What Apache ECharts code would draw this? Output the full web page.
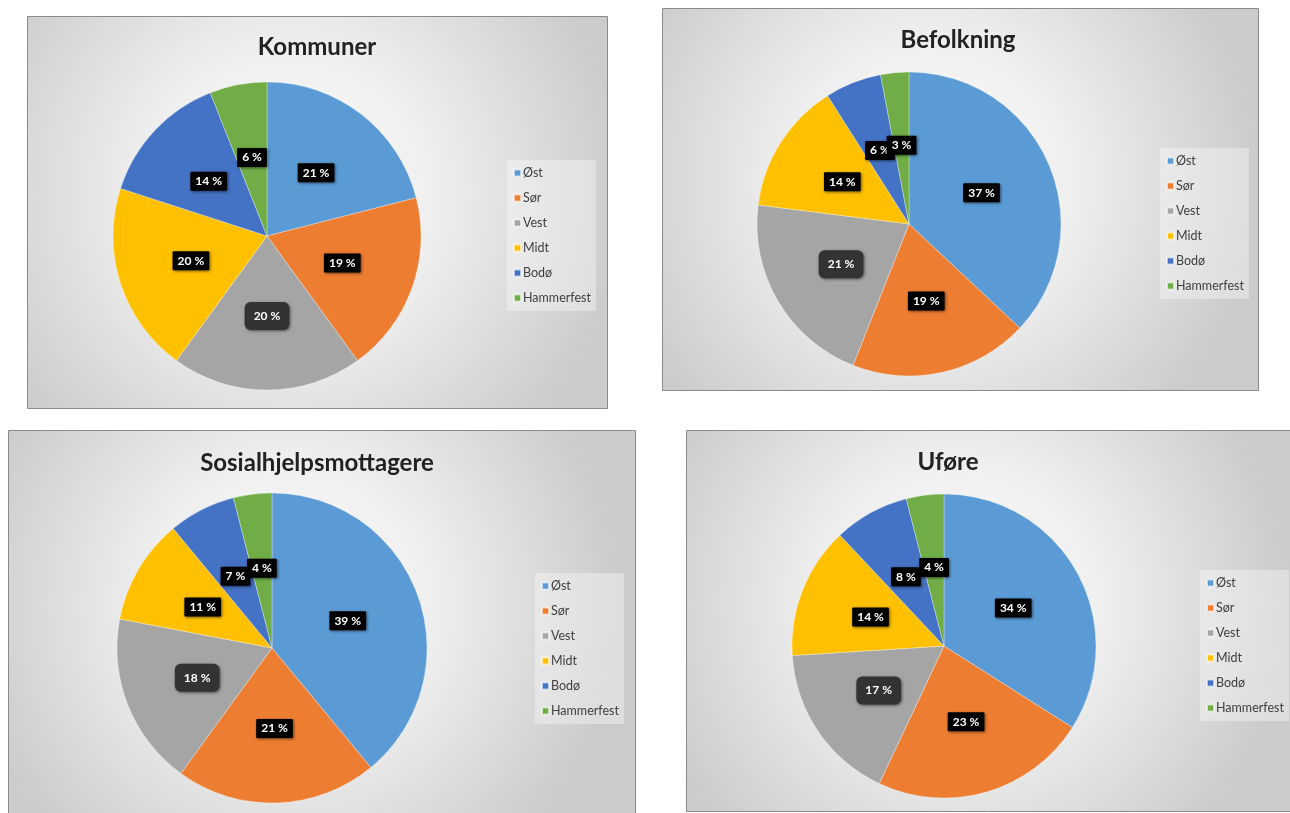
<!DOCTYPE html>
<html>
<head>
<meta charset="utf-8">
<script src="https://cdn.jsdelivr.net/npm/echarts@6/dist/echarts.min.js"></script>
<style>
html,body{margin:0;padding:0;background:#fff;}
#c{width:1290px;height:813px;}
</style>
</head>
<body>
<div id="c"></div>
<script>
var categories = ['Øst', 'Sør', 'Vest', 'Midt', 'Bodø', 'Hammerfest'];
var colors = ['#5B9BD5', '#ED7D31', '#A5A5A5', '#FFC000', '#4472C4', '#70AD47'];
var titles = ['Kommuner', 'Befolkning', 'Sosialhjelpsmottagere', 'Uføre'];
var kommuner = [21, 19, 20, 20, 14, 6];
var befolkning = [37, 19, 21, 14, 6, 3];
var sosialhjelp = [39, 21, 18, 11, 7, 4];
var ufore = [34, 23, 17, 14, 8, 4];
var seriesValues = [kommuner, befolkning, sosialhjelp, ufore];

// layout
var panels = [
  {x: 27, y: 16, w: 580, h: 392, cx: 267, cy: 236, r: 154, tx: 317, ty: 47, lx: 507, ly: 160},
  {x: 662, y: 8, w: 596, h: 382, cx: 909, cy: 224, r: 152, tx: 958, ty: 40, lx: 1160, ly: 148},
  {x: 8, y: 430, w: 627, h: 383, cx: 272, cy: 648, r: 155, tx: 317, ty: 463, lx: 535, ly: 573},
  {x: 686, y: 430, w: 610, h: 381, cx: 944, cy: 646, r: 152, tx: 948, ty: 462, lx: 1200, ly: 570}
];

var FONT = 'Lato, "Open Sans", "Liberation Sans", sans-serif';

var graphics = [];
var series = [];
var legends = [];

panels.forEach(function (p, i) {
  graphics.push({
    type: 'rect', z: -10,
    shape: {x: p.x + 0.5, y: p.y + 0.5, width: p.w, height: p.h},
    style: {
      fill: {
        type: 'radial', x: 0.45, y: 0.45, r: 0.85,
        colorStops: [{offset: 0, color: '#ffffff'}, {offset: 0.45, color: '#eeeeee'}, {offset: 1, color: '#cccccc'}]
      },
      stroke: '#8a8a8a', lineWidth: 1
    }
  });
  graphics.push({
    type: 'text', z: 10,
    x: p.tx, y: p.ty,
    style: {
      text: titles[i], fill: '#222', font: 'bold 24px ' + FONT,
      textAlign: 'center', textVerticalAlign: 'middle'
    }
  });

  var data = categories.map(function (name, k) {
    var item = {name: name, value: seriesValues[i][k]};
    if (name === 'Vest') {
      item.label = {backgroundColor: '#333333', borderRadius: 6, padding: [8, 9, 8, 9]};
    }
    return item;
  });

  series.push({
    type: 'pie',
    center: [p.cx, p.cy],
    radius: [0, p.r],
    startAngle: 90,
    clockwise: true,
    avoidLabelOverlap: false,
    minShowLabelAngle: 0,
    labelLayout: {hideOverlap: false},
    color: colors,
    data: data,
    itemStyle: {borderColor: 'rgba(255,255,255,0.6)', borderWidth: 0.5},
    emphasis: {disabled: true},
    label: {
      show: true,
      position: 'inside',
      formatter: '{c} %',
      color: '#ffffff',
      fontFamily: FONT,
      fontWeight: 'bold',
      fontSize: 12,
      backgroundColor: '#000000',
      padding: [4, 5, 3, 5],
      borderRadius: 1,
      shadowColor: 'rgba(0,0,0,0.55)',
      shadowBlur: 3,
      shadowOffsetX: 1,
      shadowOffsetY: 1
    },
    labelLine: {show: false}
  });

  legends.push({
    orient: 'vertical',
    left: p.lx, top: p.ly,
    data: categories,
    itemWidth: 7, itemHeight: 7,
    itemGap: 11,
    icon: 'rect',
    padding: [6, 5, 6, 6],
    backgroundColor: 'rgba(255,255,255,0.35)',
    selectedMode: false,
    textStyle: {fontFamily: FONT, fontSize: 12.5, color: '#404040', lineHeight: 14, padding: [0, 0, 0, -3]}
  });
});

var chart = echarts.init(document.getElementById('c'), null, {renderer: 'canvas'});
chart.setOption({
  animation: false,
  color: colors,
  graphic: graphics,
  legend: legends,
  series: series
});
</script>
</body>
</html>
